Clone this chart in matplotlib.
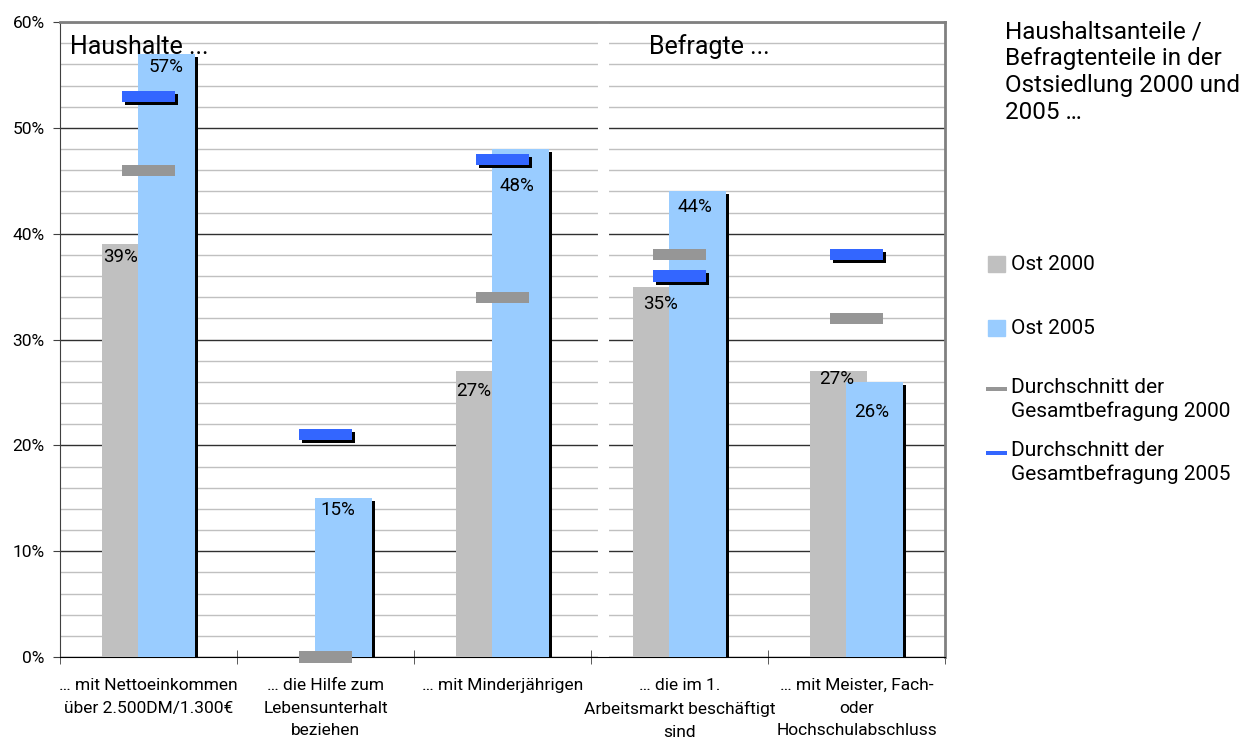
import matplotlib
matplotlib.use("Agg")
import matplotlib.pyplot as plt
import matplotlib.patheffects as pe
from matplotlib.patches import Rectangle
from matplotlib.lines import Line2D
import numpy as np

plt.rcParams['font.family'] = ['Roboto', 'DejaVu Sans']

categories = ["… mit Nettoeinkommen\nüber 2.500DM/1.300€",
              "… die Hilfe zum\nLebensunterhalt\nbeziehen",
              "… mit Minderjährigen",
              "… die im 1.\nArbeitsmarkt beschäftigt\nsind",
              "… mit Meister, Fach-\noder\nHochschulabschluss"]
ost2000 = [39, 0, 27, 35, 27]
ost2005 = [57, 15, 48, 44, 26]
avg2000 = [46, 0, 34, 38, 32]
avg2005 = [53, 21, 47, 36, 38]

# label nudges in pixels (dx, dy) as placed in the original
nudge2000 = [(-10, -13), (0, 0), (-11, -20), (-1, -17), (-2, -8)]
nudge2005 = [(0, -13), (-6, -12), (-4, -37), (-3, -16), (-3, -30)]

c_gray = "#c0c0c0"
c_blue = "#99ccff"
c_avg0 = "#969696"
c_avg5 = "#3366ff"

W, H = 1248, 745
fig = plt.figure(figsize=(W/100, H/100), dpi=100)
ax = fig.add_axes([60/W, 1-657/H, 885/W, 635/H])
px = 72/100  # points per pixel

x = np.arange(len(categories))
w = 0.322
off = 0.1017
shadow = [pe.SimplePatchShadow(offset=(3*px, -3*px), shadow_rgbFace='black', alpha=1.0), pe.Normal()]

ax.bar(x - off, ost2000, w, color=c_gray, zorder=3)
ax.bar(x + off, ost2005, w, color=c_blue, zorder=4, path_effects=shadow)

mh = 1.05
mw = 0.305
ax.bar(x, [mh]*5, mw, bottom=np.array(avg2000) - mh/2, color=c_avg0, zorder=5, clip_on=False)
ax.bar(x, [mh]*5, mw, bottom=np.array(avg2005) - mh/2, color=c_avg5, zorder=6, path_effects=shadow)

# labels
for i in range(len(x)):
    if ost2000[i] > 0:
        dx, dy = nudge2000[i]
        ax.annotate(f"{ost2000[i]}%", (x[i] - off, ost2000[i]), xytext=(dx*px, dy*px),
                    textcoords="offset points", ha="center", va="center", fontsize=13.5, zorder=8)
    dx, dy = nudge2005[i]
    ax.annotate(f"{ost2005[i]}%", (x[i] + off, ost2005[i]), xytext=(dx*px, dy*px),
                textcoords="offset points", ha="center", va="center", fontsize=13.5, zorder=8)

ax.set_xlim(-0.5, 4.5)
ax.set_ylim(0, 60)
ax.set_yticks(np.arange(0, 61, 10))
ax.set_yticklabels([f"{v}%" for v in range(0, 61, 10)], fontsize=12.5)
ax.set_yticks(np.arange(0, 61, 2), minor=True)
ax.tick_params(axis='y', which='minor', length=0)
ax.tick_params(axis='y', which='major', length=5, direction='out', pad=6, color='#404040')
ax.grid(axis='y', which='minor', color='#c0c0c0', lw=1, zorder=0)
ax.grid(axis='y', which='major', color='#303030', lw=1, zorder=1)

ax.set_xticks(x)
ax.set_xticklabels(categories, fontsize=12.5, linespacing=1.65)
ax.set_xticks(np.arange(-0.5, 5, 1), minor=True)
ax.tick_params(axis='x', which='major', length=0, pad=15)
ax.tick_params(axis='x', which='minor', length=10, direction='inout', color='#404040')

ax.axvline(2.57, color='white', lw=8, zorder=2)

for s in ['top', 'right']:
    ax.spines[s].set_color('#808080')
    ax.spines[s].set_linewidth(2)
ax.spines['left'].set_color('#404040')
ax.spines['bottom'].set_color('black')

ax.text(0.011, 0.961, "Haushalte ...", transform=ax.transAxes, fontsize=18, va='center', ha='left', zorder=10)
ax.text(3.17, 57.65, "Befragte ...", fontsize=18, va='center', ha='center', zorder=10)

fig.text(1005/W, 1-20/H, "Haushaltsanteile /\nBefragtenteile in der\nOstsiedlung 2000 und\n2005 …",
         fontsize=17.5, va='top', ha='left', linespacing=1.22)

# legend drawn by hand to follow the original spacing
def fx(p):
    return p / W

def fy(p):
    return 1 - p / H

fig.add_artist(Rectangle((fx(988), fy(272)), 17/W, 16/H, color=c_gray, transform=fig.transFigure))
fig.add_artist(Rectangle((fx(988), fy(336)), 17/W, 16/H, color=c_blue, transform=fig.transFigure))
fig.add_artist(Line2D([fx(988), fx(1005)], [fy(389), fy(389)], color=c_avg0, lw=4*px, transform=fig.transFigure))
fig.add_artist(Line2D([fx(988), fx(1005)], [fy(453), fy(453)], color=c_avg5, lw=4*px, transform=fig.transFigure))
fig.text(fx(1011), fy(264), "Ost 2000", fontsize=15, va='center', ha='left')
fig.text(fx(1011), fy(328), "Ost 2005", fontsize=15, va='center', ha='left')
fig.text(fx(1011), fy(378), "Durchschnitt der\nGesamtbefragung 2000", fontsize=15, va='top', ha='left', linespacing=1.3)
fig.text(fx(1011), fy(441), "Durchschnitt der\nGesamtbefragung 2005", fontsize=15, va='top', ha='left', linespacing=1.3)

fig.savefig("out.png", dpi=100)
